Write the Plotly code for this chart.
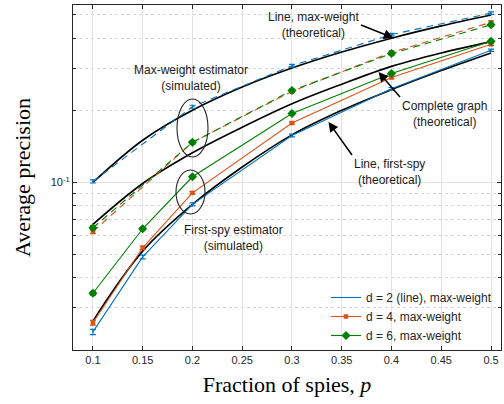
import plotly.graph_objects as go

# ---------------- data ----------------
p_theory = [0.10, 0.15, 0.20, 0.25, 0.30, 0.35, 0.40, 0.45, 0.50]
theory_line_maxweight = [0.100, 0.150, 0.200, 0.250, 0.300, 0.350, 0.400, 0.450, 0.500]
theory_complete = [0.0668, 0.099, 0.133, 0.170, 0.213, 0.257, 0.305, 0.347, 0.387]
theory_line_firstspy = [0.0264, 0.0517, 0.081, 0.116, 0.158, 0.200, 0.244, 0.293, 0.347]

p_mw = [0.10, 0.20, 0.30, 0.40, 0.50]
mw_d2 = [0.101, 0.207, 0.307, 0.414, 0.509]
mw_d4 = [0.0623, 0.147, 0.240, 0.349, 0.466]
mw_d6 = [0.0647, 0.147, 0.242, 0.345, 0.455]
mw_d2_err = [0.0015, 0.003, 0.004, 0.005, 0.006]
mw_d4_err = [0.0012, 0.002, 0.003, 0.005, 0.006]
mw_d6_err = [0.0012, 0.002, 0.003, 0.005, 0.006]

p_fs = [0.10, 0.15, 0.20, 0.30, 0.40, 0.50]
fs_d2 = [0.0238, 0.0489, 0.081, 0.157, 0.246, 0.356]
fs_d4 = [0.026, 0.0534, 0.0905, 0.177, 0.274, 0.377]
fs_d6 = [0.0345, 0.0641, 0.1056, 0.194, 0.285, 0.388]
fs_d2_err = [0.0006, 0.0009, 0.0012, 0.002, 0.003, 0.004]
fs_d4_err = [0.0006, 0.0009, 0.0012, 0.002, 0.003, 0.004]
fs_d6_err = [0.0006, 0.0009, 0.0012, 0.002, 0.003, 0.004]

legend_names = ["d = 2 (line), max-weight", "d = 4, max-weight", "d = 6, max-weight"]
x_ticks = [0.1, 0.15, 0.2, 0.25, 0.3, 0.35, 0.4, 0.45, 0.5]
x_ticklabels = ["0.1", "0.15", "0.2", "0.25", "0.3", "0.35", "0.4", "0.45", "0.5"]
y_minor = [0.03, 0.04, 0.05, 0.06, 0.07, 0.08, 0.09, 0.2, 0.3, 0.4, 0.5]

BLUE = "#0072BD"
ORANGE = "#D95319"
GREEN = "#008000"

fig = go.Figure()

for ys in (theory_line_maxweight, theory_complete, theory_line_firstspy):
    fig.add_trace(go.Scatter(x=p_theory, y=ys, mode="lines", line=dict(color="black", width=1.6, shape="spline"),
                             showlegend=False, hoverinfo="skip"))

styles = [
    (BLUE, dict(size=1, symbol="line-ew", color=BLUE)),
    (ORANGE, dict(size=4.5, symbol="square", color=ORANGE)),
    (GREEN, dict(size=7, symbol="diamond", color=GREEN)),
]

for (col, mk), ys, err in zip(styles, (mw_d2, mw_d4, mw_d6), (mw_d2_err, mw_d4_err, mw_d6_err)):
    fig.add_trace(go.Scatter(x=p_mw, y=ys, mode="lines+markers", line=dict(color=col, width=1.1, dash="7px,5px"),
                             marker=mk, error_y=dict(type="data", array=err, color=col, thickness=1.2, width=3),
                             showlegend=False))

for (col, mk), ys, err, name in zip(styles, (fs_d2, fs_d4, fs_d6), (fs_d2_err, fs_d4_err, fs_d6_err), legend_names):
    fig.add_trace(go.Scatter(x=p_fs, y=ys, mode="lines+markers", line=dict(color=col, width=1.1),
                             marker=mk, error_y=dict(type="data", array=err, color=col, thickness=1.2, width=3),
                             name=name))

# ---------------- layout ----------------
L, R, T, B = 73, 3, 5, 54
W, H = 504, 404
PW, PH = W - L - R, H - T - B


def px(xp):
    return (xp - L) / PW


def py(yp):
    return (H - B - yp) / PH


AX = "#262626"
fig.update_layout(
    width=W, height=H,
    margin=dict(l=L, r=R, t=T, b=B),
    plot_bgcolor="white", paper_bgcolor="white",
    font=dict(family="Liberation Sans, Arial, sans-serif", size=11, color=AX),
    xaxis=dict(range=[0.08, 0.51], tickvals=x_ticks, ticktext=x_ticklabels,
               showgrid=True, gridcolor="#e3e3e3", gridwidth=1,
               showline=True, linecolor=AX, linewidth=1, mirror="ticks",
               ticks="inside", ticklen=4, tickcolor=AX, zeroline=False,
               tickfont=dict(size=11),
               title=dict(text="Fraction of spies, <i>p</i>", standoff=11,
                          font=dict(family="Liberation Serif, DejaVu Serif, serif", size=22, color="black"))),
    yaxis=dict(type="log", range=[-1.699, -0.2596], tickvals=[0.1], ticktext=["10<sup>-1</sup>"],
               showgrid=True, gridcolor="#e3e3e3", gridwidth=1,
               showline=True, linecolor=AX, linewidth=1, mirror="ticks",
               ticks="inside", ticklen=4, tickcolor=AX, zeroline=False,
               tickfont=dict(size=11),
               minor=dict(tickvals=y_minor, ticks="inside", ticklen=3, tickcolor=AX,
                          showgrid=True, gridcolor="#d6d6d6", griddash="dot", gridwidth=1),
               title=dict(text="Average precision", standoff=14,
                          font=dict(family="Liberation Serif, DejaVu Serif, serif", size=22, color="black"))),
    legend=dict(x=px(326), y=py(283), xanchor="left", yanchor="top",
                bgcolor="rgba(255,255,255,0)", font=dict(size=12, color=AX),
                tracegroupgap=0, itemwidth=30),
    showlegend=True,
)

ann_font = dict(family="Liberation Sans, Arial, sans-serif", size=12, color="#1a1a1a")
texts = [
    ("Max-weight estimator<br>(simulated)", 191, 77.5),
    ("First-spy estimator<br>(simulated)", 233, 238),
]
for t, x0, y0 in texts:
    fig.add_annotation(text=t, x=px(x0), y=py(y0), xref="paper", yref="paper",
                       showarrow=False, font=ann_font, xanchor="center", yanchor="middle", align="center")

# arrow annotations: head position, tail position, anchor of text box at the tail
arrow_texts = [
    ("Line, max-weight<br>(theoretical)", (393.5, 38), (361, 25), "right", "middle"),
    ("Complete graph<br>(theoretical)", (378.5, 72), (400, 97), "left", "top"),
    ("Line, first-spy<br>(theoretical)", (328.5, 122), (352, 155), "left", "top"),
]
for t, (hx, hy), (tx, ty), xa, ya in arrow_texts:
    fig.add_annotation(text=t, x=px(hx), y=py(hy), xref="paper", yref="paper",
                       ax=tx - hx, ay=ty - hy, axref="pixel", ayref="pixel",
                       xanchor=xa, yanchor=ya, align="center", font=ann_font,
                       showarrow=True, arrowhead=2, arrowsize=1.3, arrowwidth=1.5, arrowcolor="black")

for x0, x1, y0, y1 in [(177, 208, 99, 157), (176, 205, 170, 214)]:
    fig.add_shape(type="circle", xref="paper", yref="paper",
                  x0=px(x0), x1=px(x1), y0=py(y1), y1=py(y0),
                  line=dict(color="#222222", width=1.1))

fig.write_html("out.html")
